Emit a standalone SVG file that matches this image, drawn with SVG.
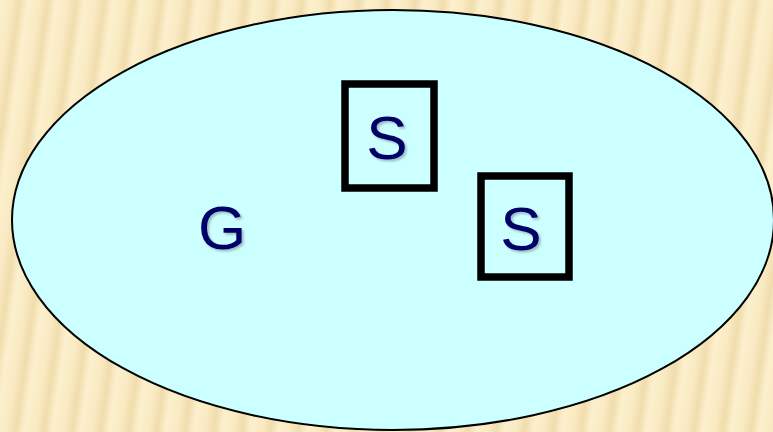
<svg xmlns="http://www.w3.org/2000/svg" width="773" height="432" viewBox="0 0 773 432">
<defs>
<linearGradient id="stripes" gradientUnits="userSpaceOnUse" x1="0" y1="0" x2="28" y2="0" spreadMethod="repeat" gradientTransform="rotate(8)">
<stop offset="0" stop-color="#fcf0cd"/>
<stop offset="0.4" stop-color="#f9eac2"/>
<stop offset="0.7" stop-color="#f0ddad"/>
<stop offset="1" stop-color="#fcf0cd"/>
</linearGradient>
<filter id="sh" x="-20%" y="-20%" width="140%" height="140%">
<feDropShadow dx="2" dy="2" stdDeviation="1.2" flood-color="#000" flood-opacity="0.25"/>
</filter>
</defs>
<style>
.lbl{font-family:"Liberation Sans",Arial,sans-serif;font-size:62px;fill:#000066;text-anchor:middle;filter:url(#sh)}
.box{fill:none;stroke:#000;stroke-width:7.5}
</style>
<rect width="773" height="432" fill="url(#stripes)"/>
<g id="G">
<ellipse cx="393" cy="220" rx="381" ry="210" fill="#ccffff" stroke="#000" stroke-width="2"/>
<text class="lbl" x="222" y="249">G</text>
</g>
<g id="S1">
<rect class="box" x="345" y="84" width="89" height="104"/>
<text class="lbl" x="387" y="159">S</text>
</g>
<g id="S2">
<rect class="box" x="481" y="176" width="88" height="101"/>
<text class="lbl" x="521" y="250">S</text>
</g>
<g id="connectors"></g>
</svg>
